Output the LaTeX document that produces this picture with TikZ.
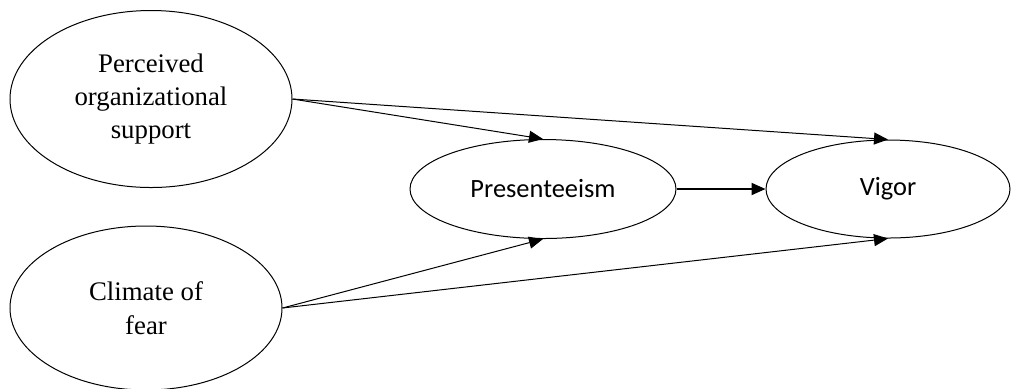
\documentclass[tikz,border=0pt]{standalone}
\usepackage{fontspec}
\setmainfont{Liberation Serif}
\newfontfamily\calibri{Carlito}
\usetikzlibrary{shapes.geometric, arrows.meta}

\begin{document}
\begin{tikzpicture}[x = 0.5pt, y = -0.5pt,
                        latent/.style = {draw, ellipse, inner sep = 0pt, line width = 0.5pt},
                        path/.style = {-{Triangle[length = 7pt, width = 6pt]}, line width = 0.5pt}]
                        \useasboundingbox (0, 0) rectangle (1011, 388);
                        \node [latent, minimum width = 141pt, minimum height = 88.5pt, align = center,
                               font = \fontsize{13.4}{16.7}\selectfont] (support) at (151, 99)
                              {Perceived\\organizational\\support};
                        \node [latent, minimum width = 136pt, minimum height = 82pt, align = center,
                               font = \fontsize{13.4}{16.7}\selectfont] (fear) at (146, 308)
                              {Climate of\\fear};
                        \node [latent, minimum width = 133pt, minimum height = 49.5pt,
                               font = \calibri\fontsize{13.2}{16}\selectfont] (present) at (543, 189)
                              {Presenteeism};
                        \node [latent, minimum width = 122pt, minimum height = 49pt,
                               font = \calibri\fontsize{13.2}{16}\selectfont] (vigor) at (888, 189)
                              {Vigor};
                        \draw[path] (support.east) -- (present.north);
                        \draw[path] (support.east) -- (vigor.north);
                        \draw[path] (fear.east) -- (present.south);
                        \draw[path] (fear.east) -- (vigor.south);
                        \draw[path, line width = 1pt] (present) -- (vigor);
                  \end{tikzpicture}
\end{document}
